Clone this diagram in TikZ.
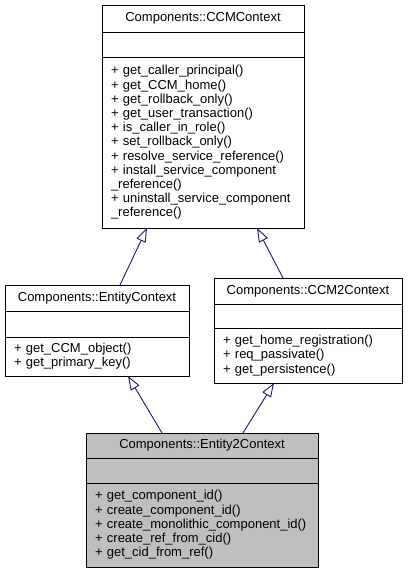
\documentclass[tikz,border=0pt]{standalone}
\usepackage{fontspec}
\setmainfont{Liberation Sans}
\usetikzlibrary{arrows.meta,positioning}
\definecolor{inheritBlue}{rgb}{0.098,0.098,0.439}
\definecolor{currentGray}{rgb}{0.749,0.749,0.749}

\begin{document}
\begin{tikzpicture}[x=1pt,y=1pt,
    every node/.style={font=\fontsize{13}{14.2}\selectfont,inner sep=0pt,outer sep=0pt},
    classpart/.style={draw=black,line width=0.9pt},
    inherit/.style={draw=inheritBlue,line width=0.9pt,-{Triangle[open,length=14pt,width=10pt]}}]

      \useasboundingbox (0,0) rectangle (407,573);

      % name / x / top / width / title h / attr h / methods h / fill / title / methods
      \def\classes{ccm/203/568/202/27/25/171/white/{Components::CCMContext}/{+ get\_caller\_principal()\\+ get\_CCM\_home()\\+ get\_rollback\_only()\\+ get\_user\_transaction()\\+ is\_caller\_in\_role()\\+ set\_rollback\_only()\\+ resolve\_service\_reference()\\+ install\_service\_component\\\_reference()\\+ uninstall\_service\_component\\\_reference()},
        ent/97/288/184/26/26/39/white/{Components::EntityContext}/{+ get\_CCM\_object()\\+ get\_primary\_key()},
        ccmtwo/308/295/188/26/24/55/white/{Components::CCM2Context}/{+ get\_home\_registration()\\+ req\_passivate()\\+ get\_persistence()},
        enttwo/202/140/232/25/25/84/currentGray/{Components::Entity2Context}/{+ get\_component\_id()\\+ create\_component\_id()\\+ create\_monolithic\_component\_id()\\+ create\_ref\_from\_cid()\\+ get\_cid\_from\_ref()}}

      % draw the class boxes
      \foreach \id/\cx/\ctop/\cw/\htitle/\hattr/\hmeth/\cfill/\ctitle/\meth in \classes
      {
        \pgfmathsetmacro\tw{\cw-18}
        \node[classpart,fill=\cfill,anchor=north,minimum width=\cw pt,minimum height=\htitle pt] (\id) at (\cx,\ctop) {\ctitle};
        \node[classpart,fill=\cfill,below=0pt of \id,minimum width=\cw pt,minimum height=\hattr pt] (\id attr) {};
        \node[classpart,fill=\cfill,below=0pt of \id attr,minimum width=\cw pt,minimum height=\hmeth pt,
          text width=\tw pt,align=left] (\id meth) {\meth};
      }

      % draw the inheritance arrows
      \draw[inherit] ([xshift=23pt]ent.north) -- ([xshift=-56pt]ccmmeth.south);
      \draw[inherit] ([xshift=-25pt]ccmtwo.north) -- ([xshift=54pt]ccmmeth.south);
      \draw[inherit] ([xshift=-40pt]enttwo.north) -- ([xshift=31pt]entmeth.south);
      \draw[inherit] ([xshift=41pt]enttwo.north) -- ([xshift=-34pt]ccmtwometh.south);

    \end{tikzpicture}
\end{document}
